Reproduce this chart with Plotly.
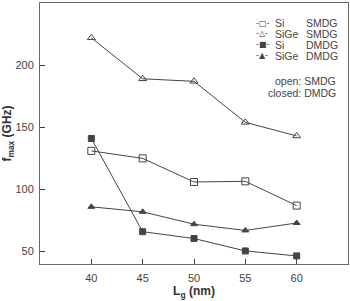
import plotly.graph_objects as go

lg = [40, 45, 50, 55, 60]
si_smdg = [131, 125, 106, 106.5, 87]
sige_smdg = [222, 189, 187, 154, 143]
si_dmdg = [141, 66, 60.5, 50.5, 46.5]
sige_dmdg = [86, 82, 72, 67, 73]

materials = ["Si", "SiGe", "Si", "SiGe"]
gates = ["SMDG", "SMDG", "DMDG", "DMDG"]
glyphs = ["-\u25a1-", "-\u25b3-", "-\u25a0-", "-\u25b2-"]
symbols = ["square-open", "triangle-up-open", "square", "triangle-up"]
sizes = [7, 7, 6, 6]
values = [si_smdg, sige_smdg, si_dmdg, sige_dmdg]

col = "#444444"
txt = "#444444"
fig = go.Figure()
for mat, gate, ys, sym, sz in zip(materials, gates, values, symbols, sizes):
    fig.add_trace(go.Scatter(
        x=lg, y=ys, name=f"{mat} {gate}", mode="lines+markers", showlegend=False,
        line=dict(color=col, width=1),
        marker=dict(symbol=sym, size=sz, color=col, line=dict(color=col, width=1)),
    ))

ann = []
row_y = [0.923, 0.882, 0.840, 0.797]
for i in range(4):
    ann.append(dict(text=glyphs[i], x=0.722, y=row_y[i], xref="paper", yref="paper",
                    xanchor="center", yanchor="middle", showarrow=False,
                    font=dict(family="DejaVu Sans", size=8, color=txt)))
    ann.append(dict(text=materials[i], x=0.756, y=row_y[i], xref="paper", yref="paper",
                    xanchor="left", yanchor="middle", showarrow=False,
                    font=dict(size=10.5, color=txt)))
    ann.append(dict(text=gates[i], x=0.856, y=row_y[i], xref="paper", yref="paper",
                    xanchor="left", yanchor="middle", showarrow=False,
                    font=dict(size=10.5, color=txt)))
ann.append(dict(text="open: SMDG", x=0.966, y=0.701, xref="paper", yref="paper",
                xanchor="right", yanchor="middle", showarrow=False,
                font=dict(size=10.5, color=txt)))
ann.append(dict(text="closed: DMDG", x=0.966, y=0.655, xref="paper", yref="paper",
                xanchor="right", yanchor="middle", showarrow=False,
                font=dict(size=10.5, color=txt)))

font = dict(family="Liberation Sans, Arial, sans-serif", size=11, color="#444444")
fig.update_layout(
    width=350, height=301,
    margin=dict(l=40, r=2, t=3, b=37, autoexpand=False),
    paper_bgcolor="white", plot_bgcolor="white",
    font=font,
    showlegend=False,
    annotations=ann,
)
fig.update_xaxes(range=[35, 65], tickvals=[40, 45, 50, 55, 60], ticks="inside",
                 ticklen=5, tickcolor=col, showgrid=False, zeroline=False,
                 ticklabelstandoff=4,
                 showline=True, linecolor="#666666", linewidth=1, mirror=True,
                 title=dict(text="<b>L<sub>g</sub> (nm)</b>", standoff=2,
                            font=dict(size=12, color="#333333")))
fig.update_yaxes(range=[40, 250], tickvals=[50, 100, 150, 200, 250], ticks="inside",
                 ticklen=5, tickcolor=col, showgrid=False, zeroline=False,
                 ticklabelstandoff=3,
                 showline=True, linecolor="#666666", linewidth=1, mirror=True,
                 title=dict(text="<b>f<sub>max</sub> (GHz)</b>", standoff=6,
                            font=dict(size=12, color="#333333")))

fig.write_html("out.html", config={"displayModeBar": False},
               post_script="document.body.style.margin='0';document.body.style.overflow='hidden';")
